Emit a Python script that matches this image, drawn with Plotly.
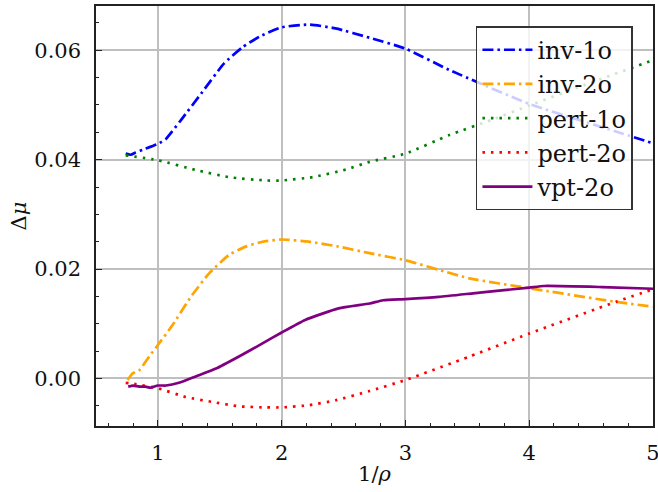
import plotly.graph_objects as go

# inv-1o
inv1_x = [0.74, 0.78, 0.82, 0.90, 1.00, 1.065, 1.185, 1.36, 1.535, 1.68, 1.82, 2.00, 2.22, 2.435, 2.71, 3.00, 3.355, 4.00, 4.75, 5.00]
inv1_y = [0.0411, 0.0409, 0.0413, 0.0420, 0.0429, 0.0438, 0.0472, 0.0524, 0.0576, 0.0605, 0.0625, 0.0642, 0.0647, 0.0640, 0.0623, 0.0603, 0.0564, 0.0502, 0.0448, 0.0430]

# inv-2o
inv2_x = [0.755, 0.795, 0.85, 0.93, 1.00, 1.12, 1.266, 1.414, 1.575, 1.71, 1.845, 2.00, 2.22, 2.46, 2.71, 3.00, 3.516, 4.00, 4.70, 5.00]
inv2_y = [-0.0003, 0.0009, 0.0015, 0.0040, 0.0061, 0.0098, 0.0149, 0.0192, 0.0226, 0.0241, 0.0250, 0.0254, 0.0250, 0.0241, 0.0229, 0.0216, 0.0183, 0.0165, 0.0140, 0.0131]

# pert-1o
pert1_x = [0.74, 1.00, 1.31, 1.575, 1.87, 2.00, 2.25, 2.52, 2.71, 3.00, 3.355, 3.70, 4.00, 4.50, 5.00]
pert1_y = [0.0408, 0.0399, 0.0381, 0.0368, 0.0362, 0.0362, 0.0368, 0.0382, 0.0396, 0.0411, 0.0445, 0.0473, 0.0499, 0.0541, 0.0582]

# pert-2o
pert2_x = [0.74, 0.81, 1.00, 1.226, 1.44, 1.655, 1.87, 2.00, 2.22, 2.435, 2.71, 3.00, 3.516, 4.00, 4.70, 5.00]
pert2_y = [-0.0008, -0.0010, -0.0018, -0.0034, -0.0043, -0.0051, -0.0053, -0.0053, -0.0049, -0.0040, -0.0023, -0.0003, 0.0040, 0.0082, 0.0140, 0.0163]

# vpt-2o
vpt2_x = [0.76, 0.80, 0.85, 0.90, 0.94, 1.00, 1.065, 1.17, 1.31, 1.47, 1.655, 1.845, 2.00, 2.19, 2.46, 2.71, 2.82, 3.00, 3.27, 3.60, 4.00, 4.12, 4.59, 5.00]
vpt2_y = [-0.0015, -0.0013, -0.0015, -0.0015, -0.0017, -0.0013, -0.0013, -0.0008, 0.0004, 0.0018, 0.0040, 0.0064, 0.0084, 0.0107, 0.0128, 0.0137, 0.0143, 0.0145, 0.0149, 0.0157, 0.0166, 0.0169, 0.0167, 0.0164]

FONT = "DejaVu Serif"
FS = 21
LFS = 24
DASHDOT = "11px,4px,2.5px,4px"
DOT = "2.5px,6px"

fig = go.Figure()
fig.add_trace(go.Scatter(x=inv1_x, y=inv1_y, mode="lines", name="inv-1o",
                         line=dict(color="blue", width=2.7, dash=DASHDOT, shape="spline", smoothing=0.5)))
fig.add_trace(go.Scatter(x=inv2_x, y=inv2_y, mode="lines", name="inv-2o",
                         line=dict(color="orange", width=2.7, dash=DASHDOT, shape="spline", smoothing=0.5)))
fig.add_trace(go.Scatter(x=pert1_x, y=pert1_y, mode="lines", name="pert-1o",
                         line=dict(color="green", width=2.7, dash=DOT, shape="spline", smoothing=0.5)))
fig.add_trace(go.Scatter(x=pert2_x, y=pert2_y, mode="lines", name="pert-2o",
                         line=dict(color="red", width=2.7, dash=DOT, shape="spline", smoothing=0.5)))
fig.add_trace(go.Scatter(x=vpt2_x, y=vpt2_y, mode="lines", name="vpt-2o",
                         line=dict(color="purple", width=2.7, shape="spline", smoothing=0.5)))

axis_common = dict(
    showline=True, linecolor="#222222", linewidth=1.5, mirror=True,
    showgrid=True, gridcolor="#bfbfbf", gridwidth=1.5,
    zeroline=False, ticks="inside", ticklen=6, tickwidth=1.3, tickcolor="#222222",
    tickfont=dict(family=FONT, size=FS, color="#111111"),
    automargin=False, ticklabeloverflow="allow",
)

fig.update_xaxes(
    range=[0.5, 5.0], tickmode="array", tickvals=[1, 2, 3, 4, 5], ticktext=["1", "2", "3", "4", "5"],
    minor=dict(ticks="inside", ticklen=3.5, tickwidth=1.1, tickcolor="#222222", dtick=0.2, tick0=0, showgrid=False),
    title=dict(text="1/<i>ρ</i>", font=dict(family=FONT, size=FS, color="#111111"), standoff=2),
    ticklabelstandoff=7,
    **axis_common,
)
fig.update_yaxes(
    range=[-0.0087, 0.0681], tickmode="array", tickvals=[0.0, 0.02, 0.04, 0.06],
    ticktext=["0.00", "0.02", "0.04", "0.06"],
    minor=dict(ticks="inside", ticklen=3.5, tickwidth=1.1, tickcolor="#222222", dtick=0.005, tick0=0, showgrid=False),
    title=dict(text="Δ<i>μ</i>", font=dict(family=FONT, size=FS, color="#111111"), standoff=2),
    ticklabelstandoff=9,
    **axis_common,
)

fig.update_layout(
    width=658, height=492,
    margin=dict(l=96, r=5, t=6, b=66),
    paper_bgcolor="white", plot_bgcolor="white",
    font=dict(family=FONT, size=FS, color="#111111"),
    legend=dict(
        x=0.964, y=0.952, xanchor="right", yanchor="top",
        bgcolor="rgba(255,255,255,0.8)", bordercolor="#333333", borderwidth=1.5,
        font=dict(family=FONT, size=LFS, color="#111111"),
        itemwidth=50, tracegroupgap=0,
    ),
    showlegend=True,
)

fig.write_html("out.html", config={"displayModeBar": False},
               post_script="document.body.style.margin='0';document.body.style.padding='0';")
